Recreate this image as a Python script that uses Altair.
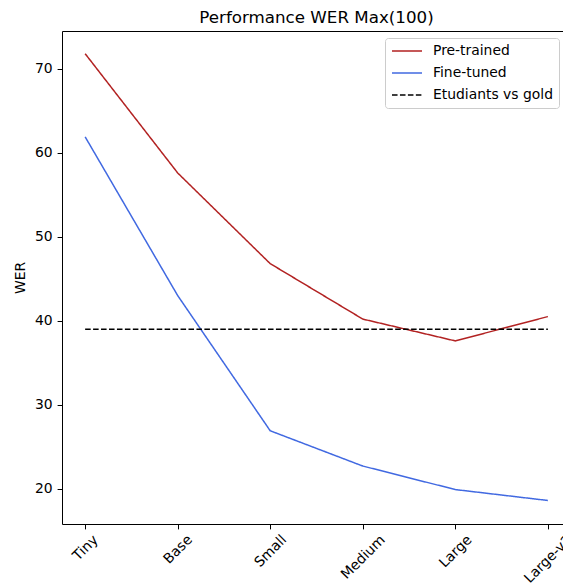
import altair as alt
import pandas as pd

models = ["Tiny", "Base", "Small", "Medium", "Large", "Large-v2"]
pretrained = [71.8, 57.6, 46.8, 40.2, 37.6, 40.5]
finetuned = [61.9, 43.0, 26.9, 22.7, 19.9, 18.6]
gold = [39.0, 39.0, 39.0, 39.0, 39.0, 39.0]
series = ["Pre-trained", "Fine-tuned", "Etudiants vs gold"]
colors = ["#b22222", "#4169e1", "#000000"]
dashes = [[1, 0], [1, 0], [5.55, 2.4]]
y_ticks = [20, 30, 40, 50, 60, 70]

rows = []
for name, vals in zip(series, [pretrained, finetuned, gold]):
    for i, (m, v) in enumerate(zip(models, vals)):
        rows.append({"idx": i, "model": m, "wer": v, "series": name})
df = pd.DataFrame(rows)

label_expr = "[" + ",".join(f"'{m}'" for m in models) + "][datum.value]"

# per-label padding to mimic matplotlib's centred rotated labels
pads = [18.8, 20.3, 22.0, 28.0, 22.3, 30.1]
pad_cond = {
    "condition": [{"test": f"datum.value === {i}", "value": v} for i, v in enumerate(pads)],
    "value": 22,
}

FONT = "DejaVu Sans"

legend = alt.Legend(
    title=None,
    orient="none",
    legendX=323,
    legendY=7,
    symbolType="stroke",
    symbolSize=900,
    symbolStrokeWidth=1.5,
    labelFont=FONT,
    labelFontSize=13.9,
    labelColor="black",
    labelOffset=10,
    fillColor="white",
    strokeColor="#cccccc",
    cornerRadius=3,
    padding=6,
    rowPadding=8,
    clipHeight=14,
)

chart = alt.Chart(df).mark_line(strokeWidth=1.5).encode(
    x=alt.X(
        "idx:Q",
        scale=alt.Scale(domain=[-0.25, 5.25], nice=False, zero=False),
        axis=alt.Axis(
            title=None,
            values=list(range(len(models))),
            labelExpr=label_expr,
            labelAngle=315,
            labelAlign="center",
            labelBaseline="middle",
            labelPadding=pad_cond,
            labelOverlap=False,
            labelBound=False,
            labelFlush=False,
        ),
    ),
    y=alt.Y(
        "wer:Q",
        scale=alt.Scale(domain=[15.8, 74.5], nice=False, zero=False),
        axis=alt.Axis(
            values=y_ticks,
            title="WER",
            titleAngle=270,
            titleAlign="center",
            titleBaseline="middle",
            titleX=-42,
            titleY=246.5,
            labelPadding=4.9,
        ),
    ),
    color=alt.Color("series:N", scale=alt.Scale(domain=series, range=colors), legend=legend),
    strokeDash=alt.StrokeDash("series:N", scale=alt.Scale(domain=series, range=dashes), legend=legend),
    order="idx:Q",
).properties(
    width=509,
    height=493,
    title=alt.TitleParams(
        "Performance WER Max(100)",
        font=FONT,
        fontSize=16.7,
        fontWeight="normal",
        color="black",
        anchor="middle",
        offset=4,
    ),
    autosize=alt.AutoSizeParams(type="none"),
    padding={"left": 54, "top": 23, "right": -8, "bottom": 64},
).configure_view(
    stroke="black", strokeWidth=1
).configure_axis(
    domain=False,
    grid=False,
    tickColor="black",
    tickSize=4.9,
    tickWidth=1,
    labelColor="black",
    labelFont=FONT,
    labelFontSize=13.9,
    titleFont=FONT,
    titleFontSize=13.9,
    titleFontWeight="normal",
    titleColor="black",
)

chart.save("out.html", embed_options={"renderer": "svg", "actions": False})
